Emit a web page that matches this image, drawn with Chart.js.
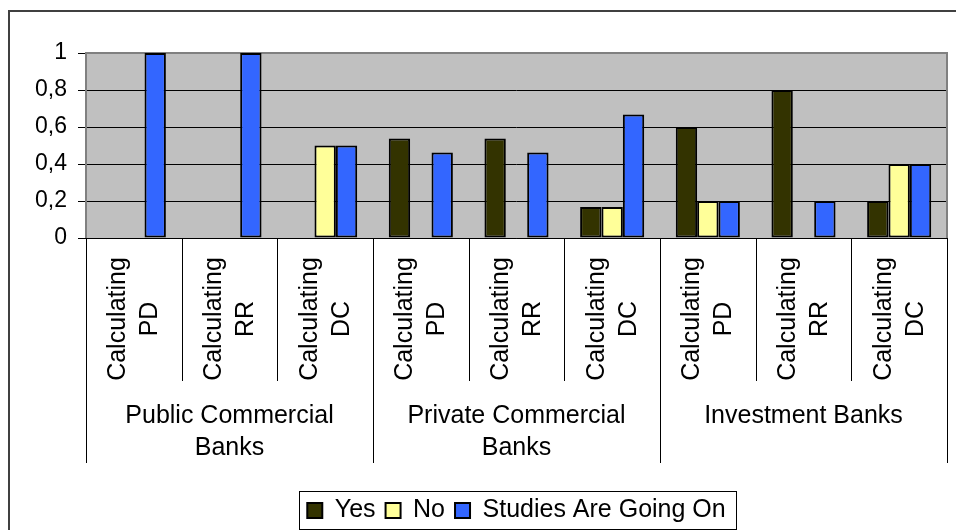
<!DOCTYPE html>
<html>
<head>
<meta charset="utf-8">
<script src="https://cdn.jsdelivr.net/npm/chart.js@4.4.1/dist/chart.umd.min.js"></script>
<style>
	html, body { margin: 0; padding: 0; background: #fff; }
	#wrap { width: 956px; height: 530px; }
</style>
</head>
<body>
<div id="wrap"><canvas id="mycanvas" width="956" height="530"></canvas></div>
<script>
// data
var categories = [
	["Calculating", "PD"], ["Calculating", "RR"], ["Calculating", "DC"],
	["Calculating", "PD"], ["Calculating", "RR"], ["Calculating", "DC"],
	["Calculating", "PD"], ["Calculating", "RR"], ["Calculating", "DC"]
];
var groupLabels = [
	["Public Commercial", "Banks"],
	["Private Commercial", "Banks"],
	["Investment Banks"]
];
var seriesNames = ["Yes", "No", "Studies Are Going On"];
var yes     = [0, 0, 0,   0.538, 0.538, 0.167, 0.6, 0.8, 0.2];
var no      = [0, 0, 0.5, 0,     0,     0.167, 0.2, 0,   0.4];
var studies = [1, 1, 0.5, 0.462, 0.462, 0.667, 0.2, 0.2, 0.4];
var yTicks = [0, 0.2, 0.4, 0.6, 0.8, 1];

var FONT = "'Liberation Sans', Arial, sans-serif";
Chart.defaults.font.family = FONT;
Chart.defaults.color = "#000";

// grey plot background + frame, outer border, category boxes, legend frame
var excelLook = {
	id: "excelLook",
	beforeDraw: function(chart) {
		var a = chart.chartArea, ctx = chart.ctx;
		ctx.save();
		ctx.fillStyle = "#fff";
		ctx.fillRect(0, 0, chart.width, chart.height);
		ctx.fillStyle = "#C0C0C0";
		ctx.fillRect(a.left, a.top, a.right - a.left, a.bottom - a.top);
		ctx.restore();
	},
	beforeDatasetsDraw: function(chart) {
		var a = chart.chartArea, ctx = chart.ctx;
		ctx.save();
		ctx.strokeStyle = "#808080";
		ctx.lineWidth = 2;
		ctx.beginPath();
		ctx.moveTo(a.left, a.bottom);
		ctx.lineTo(a.left, a.top);
		ctx.lineTo(a.right, a.top);
		ctx.lineTo(a.right, a.bottom);
		ctx.stroke();
		ctx.strokeStyle = "#000";
		ctx.lineWidth = 1;
		ctx.beginPath();
		ctx.moveTo(a.left, a.bottom + 0.5);
		ctx.lineTo(a.right, a.bottom + 0.5);
		ctx.stroke();
		ctx.restore();
	},
	afterDraw: function(chart) {
		var ctx = chart.ctx, a = chart.chartArea, x = chart.scales.x;
		ctx.save();

		// outer chart border
		ctx.strokeStyle = "#404040";
		ctx.lineWidth = 2;
		ctx.beginPath();
		ctx.moveTo(9, chart.height);
		ctx.lineTo(9, 11);
		ctx.lineTo(chart.width, 11);
		ctx.stroke();

		// boundaries between categories
		var n = categories.length, edges = [];
		for (var i = 0; i <= n; i++) {
			if (i == 0) edges.push(a.left);
			else if (i == n) edges.push(a.right);
			else edges.push((x.getPixelForValue(i - 1) + x.getPixelForValue(i)) / 2);
		}
		ctx.strokeStyle = "#000";
		ctx.lineWidth = 1;
		for (var i = 0; i <= n; i++) {
			var ex = Math.round(edges[i]) + 0.5;
			var bottom = (i % 3 == 0) ? 463 : 381;
			ctx.beginPath();
			ctx.moveTo(ex, a.bottom);
			ctx.lineTo(ex, bottom);
			ctx.stroke();
		}

		// rotated two-line category labels
		ctx.fillStyle = "#000";
		ctx.font = "25px " + FONT;
		ctx.textAlign = "center";
		ctx.textBaseline = "alphabetic";
		for (var i = 0; i < n; i++) {
			var cx = x.getPixelForValue(i);
			ctx.save();
			ctx.translate(cx, 319);
			ctx.rotate(-Math.PI / 2);
			ctx.fillText(categories[i][0], 0, -8.5);
			ctx.fillText(categories[i][1], 0, 23.5);
			ctx.restore();
		}

		// group labels
		ctx.font = "25px " + FONT;
		for (var g = 0; g < groupLabels.length; g++) {
			var gx = (edges[g * 3] + edges[g * 3 + 3]) / 2;
			for (var l = 0; l < groupLabels[g].length; l++) {
				ctx.fillText(groupLabels[g][l], gx, 423 + l * 32);
			}
		}

		// frame round the legend
		var hb = chart.legend.legendHitBoxes;
		if (hb && hb.length) {
			var last = hb[hb.length - 1];
			var cy = hb[0].top + hb[0].height / 2;
			var lx = hb[0].left - 8, rx = last.left + last.width + 11;
			ctx.strokeStyle = "#000";
			ctx.lineWidth = 1;
			ctx.strokeRect(Math.round(lx) + 0.5, Math.round(cy - 20) + 0.5, Math.round(rx - lx), 38);
		}
		ctx.restore();
	}
};

var ctx = document.getElementById("mycanvas");

var BarGraph = new Chart(ctx, {
	type: "bar",
	data: {
		labels: categories,
		datasets: [
			{
				label: seriesNames[0],
				backgroundColor: "#333300",
				borderColor: "#000",
				borderWidth: 2,
				data: yes
			},
			{
				label: seriesNames[1],
				backgroundColor: "#FFFF99",
				borderColor: "#000",
				borderWidth: 2,
				data: no
			},
			{
				label: seriesNames[2],
				backgroundColor: "#3366FF",
				borderColor: "#000",
				borderWidth: 2,
				data: studies
			}
		]
	},
	options: {
		responsive: false,
		animation: false,
		devicePixelRatio: 1,
		layout: { padding: { top: 53, right: 9, bottom: -3, left: 0 } },
		datasets: {
			bar: { categoryPercentage: 0.67, barPercentage: 1.0, borderSkipped: false }
		},
		scales: {
			x: {
				type: "category",
				grid: { display: false },
				ticks: { display: false },
				border: { display: false },
				afterFit: function(scale) { scale.height = 250; }
			},
			y: {
				min: 0,
				max: 1,
				afterBuildTicks: function(scale) {
					scale.ticks = yTicks.map(function(v) { return { value: v }; });
				},
				afterFit: function(scale) { scale.width = 86; },
				ticks: {
					padding: 11,
					font: { size: 23 },
					color: "#000",
					callback: function(v) { return String(Math.round(v * 10) / 10).replace(".", ","); }
				},
				grid: {
					color: function(c) { return (c.tick && c.tick.value == 1) ? "#808080" : "#000"; },
					lineWidth: 1,
					tickLength: 8,
					tickColor: "#000"
				},
				border: { display: false }
			}
		},
		plugins: {
			legend: {
				position: "bottom",
				fullSize: false,
				labels: {
					font: { size: 25 },
					color: "#000",
					boxWidth: 15,
					boxHeight: 15,
					padding: 10
				}
			},
			tooltip: { enabled: false }
		}
	},
	plugins: [excelLook]
});
</script>
</body>
</html>
